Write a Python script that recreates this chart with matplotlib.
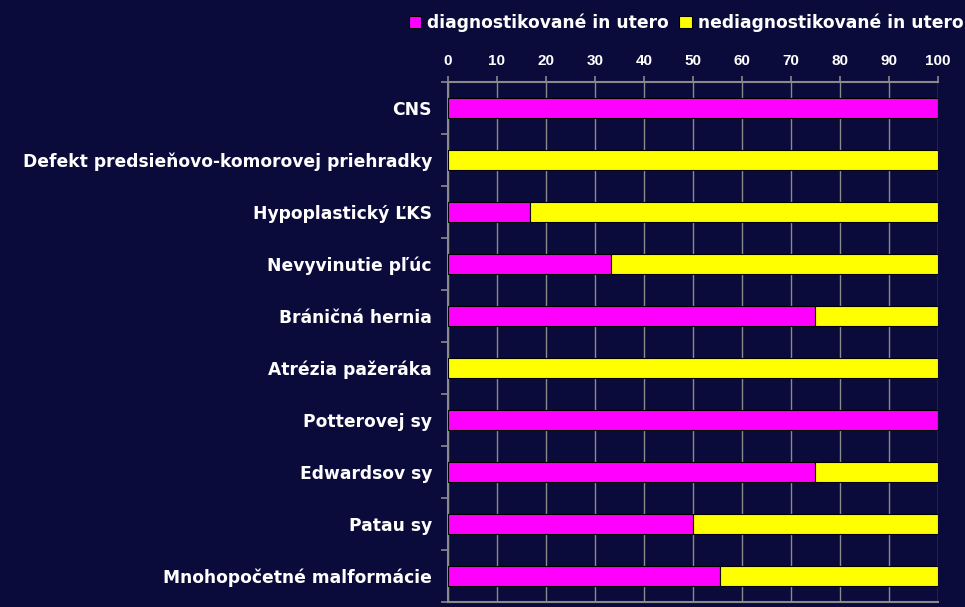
import matplotlib
matplotlib.use("Agg")
import matplotlib.pyplot as plt
import numpy as np

# data
categories = ["CNS", "Defekt predsieňovo-komorovej priehradky", "Hypoplastický ĽKS",
              "Nevyvinutie pľúc", "Bráničná hernia", "Atrézia pažeráka",
              "Potterovej sy", "Edwardsov sy", "Patau sy", "Mnohopočetné malformácie"]
diagnosed = [100, 0, 16.7, 33.3, 75, 0, 100, 75, 50, 55.6]
not_diagnosed = [0, 100, 83.3, 66.7, 25, 100, 0, 25, 50, 44.4]
legend_labels = ["diagnostikované in utero", "nediagnostikované in utero"]
x_ticks = list(range(0, 101, 10))

bg = "#0b0b3b"
grey = "#8a8a8a"
plt.rcParams["font.family"] = ["DejaVu Sans"]

fig = plt.figure(figsize=(9.65, 6.07), dpi=100, facecolor=bg)
ax = fig.add_axes([0.4642, 0.0082, 0.5078, 0.8567], facecolor=bg)

y = np.arange(len(categories))
ax.barh(y, diagnosed, height=0.4, color="#ff00ff", edgecolor="black", linewidth=0.8,
        label=legend_labels[0], zorder=3)
ax.barh(y, not_diagnosed, left=diagnosed, height=0.4, color="#ffff00", edgecolor="black",
        linewidth=0.8, label=legend_labels[1], zorder=3)

ax.set_xlim(0, 100)
ax.set_ylim(len(categories) - 0.5, -0.5)
ax.xaxis.tick_top()
ax.set_xticks(x_ticks)
ax.set_xticklabels([str(t) for t in x_ticks], color="white", fontsize=11,
                   fontweight="bold", family=["Liberation Sans", "DejaVu Sans"])
ax.tick_params(axis="x", length=4, width=1.2, color=grey, pad=6)
ax.grid(axis="x", color=grey, linewidth=1, zorder=0)

ax.set_yticks(y)
ax.set_yticklabels(categories, color="white", fontsize=12.3, fontweight="bold")
ax.tick_params(axis="y", which="major", length=0, pad=11.5)
ax.set_yticks(np.arange(len(categories) + 1) - 0.5, minor=True)
ax.tick_params(axis="y", which="minor", length=5, color=grey, width=1.2)

ax.spines["right"].set_visible(False)
for s in ["left", "bottom", "top"]:
    ax.spines[s].set_color(grey)
    ax.spines[s].set_linewidth(1.5)

leg = fig.legend(loc="center left", bbox_to_anchor=(0.424, 0.963), ncol=2, frameon=False,
                 handlelength=0.72, handleheight=0.72, handletextpad=0.35, columnspacing=0.6,
                 borderpad=0, borderaxespad=0,
                 prop={"weight": "bold", "size": 12.3})
for t in leg.get_texts():
    t.set_color("white")
for h in leg.legend_handles:
    h.set_edgecolor("black")

fig.savefig("out.png", dpi=100, facecolor=bg)
